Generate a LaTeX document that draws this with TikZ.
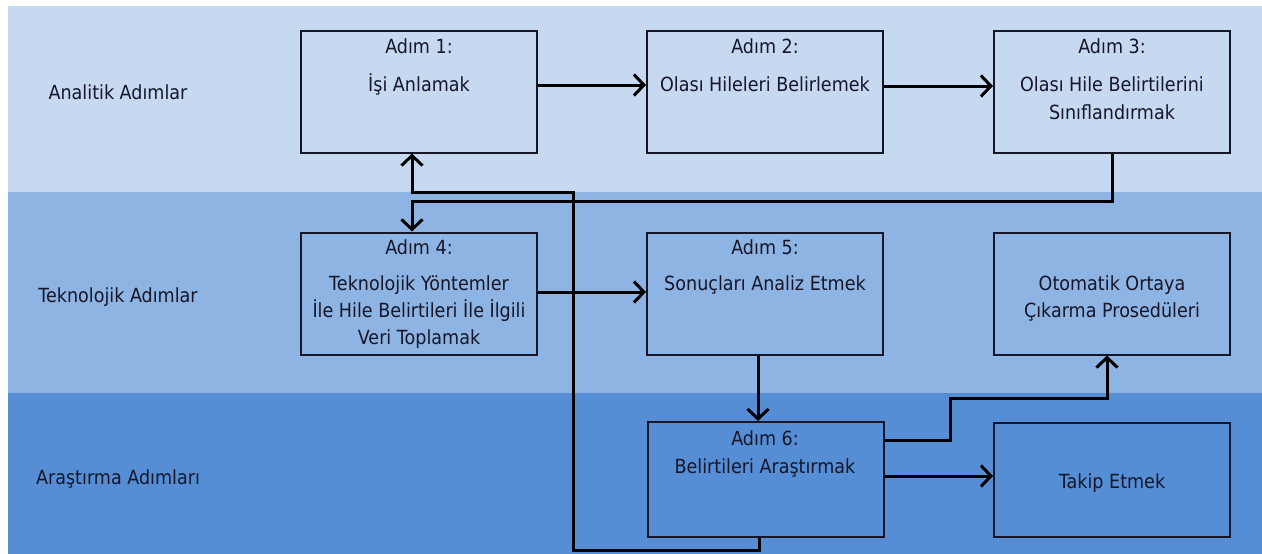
\documentclass[tikz,border=0pt]{standalone}
\usepackage{fontspec}
\setmainfont{DejaVu Sans}[FakeStretch=0.9]
\usetikzlibrary{arrows.meta}
\definecolor{bandA}{RGB}{198,217,241}
\definecolor{bandB}{RGB}{142,180,227}
\definecolor{bandC}{RGB}{85,142,213}
\definecolor{ink}{RGB}{22,22,40}
\tikzset{
  stepbox/.style={draw=ink, line width=2pt, minimum width=236pt, minimum height=122pt, inner sep=0pt},
  txt/.style={text=ink, font=\fontsize{19.5}{23}\selectfont, inner sep=0pt, anchor=base},
  conn/.style={draw=black, line width=3pt},
  arr/.style={conn, -{Straight Barb[length=10pt,width=21pt]}},
}
\begin{document}
\begin{tikzpicture}[x=1pt,y=-1pt]
\useasboundingbox (0,0) rectangle (1262,554);
% bands
\fill[bandA] (8,6) rectangle (1262,192);
\fill[bandB] (8,192) rectangle (1262,393);
\fill[bandC] (8,393) rectangle (1262,554);
% row labels
\node[txt] (r1) at (118,99) {Analitik Adımlar};
\node[txt] (r2) at (118,302) {Teknolojik Adımlar};
\node[txt] (r3) at (118,484) {Araştırma Adımları};
% boxes
\node[stepbox] (b1) at (419,91.5) {};
\node[stepbox] (b2) at (765,91.5) {};
\node[stepbox] (b3) at (1112,91.5) {};
\node[stepbox] (b4) at (419,293.5) {};
\node[stepbox] (b5) at (765,293.5) {};
\node[stepbox] (b7) at (1112,293.5) {};
\node[stepbox, minimum height=115pt] (b6) at (765.5,479.5) {};
\node[stepbox, minimum height=114pt] (b8) at (1112,480) {};
% texts
\node[txt] (t1a) at (419,53) {Adım 1:};
\node[txt] (t1b) at (419,91) {İşi Anlamak};
\node[txt] (t2a) at (765,53) {Adım 2:};
\node[txt] (t2b) at (765,91) {Olası Hileleri Belirlemek};
\node[txt] (t3a) at (1112,53) {Adım 3:};
\node[txt] (t3b) at (1112,91) {Olası Hile Belirtilerini};
\node[txt] (t3c) at (1112,119) {Sınıflandırmak};
\node[txt] (t4a) at (419,254) {Adım 4:};
\node[txt] (t4b) at (419,290) {Teknolojik Yöntemler};
\node[txt] (t4c) at (419,317) {İle Hile Belirtileri İle İlgili};
\node[txt] (t4d) at (419,344) {Veri Toplamak};
\node[txt] (t5a) at (765,254) {Adım 5:};
\node[txt] (t5b) at (765,290) {Sonuçları Analiz Etmek};
\node[txt] (t7a) at (1112,290) {Otomatik Ortaya};
\node[txt] (t7b) at (1112,317) {Çıkarma Prosedüleri};
\node[txt] (t6a) at (765,445) {Adım 6:};
\node[txt] (t6b) at (765,473) {Belirtileri Araştırmak};
\node[txt] (t8a) at (1112,488) {Takip Etmek};
% helper coordinates
\coordinate (h1) at (0,85);
\coordinate (h2) at (0,86);
\coordinate (k1) at (412,201);
\coordinate (x759) at (759,0);
\coordinate (k2) at (573,550);
\coordinate (k3) at (412,192);
\coordinate (h5) at (0,292);
\coordinate (x758) at (758,0);
\coordinate (k7a) at (950,440);
\coordinate (k7b) at (1107,398);
\coordinate (h8) at (0,476);
% connectors
\draw[arr] (b1.east |- h1) -- (b2.west |- h1);
\draw[arr] (b2.east |- h2) -- (b3.west |- h2);
\draw[arr] (b3.south) |- (k1) -- (k1 |- b4.north);
\draw[arr] (b6.south -| x759) |- (k2) -- (k2 |- k3) -- (k3) -- (k3 |- b1.south);
\draw[arr] (b4.east |- h5) -- (b5.west |- h5);
\draw[arr] (b5.south -| x758) -- (b6.north -| x758);
\draw[arr] (b6.east |- k7a) -- (k7a) |- (k7b) -- (k7b |- b7.south);
\draw[arr] (b6.east |- h8) -- (b8.west |- h8);
\end{tikzpicture}
\end{document}
